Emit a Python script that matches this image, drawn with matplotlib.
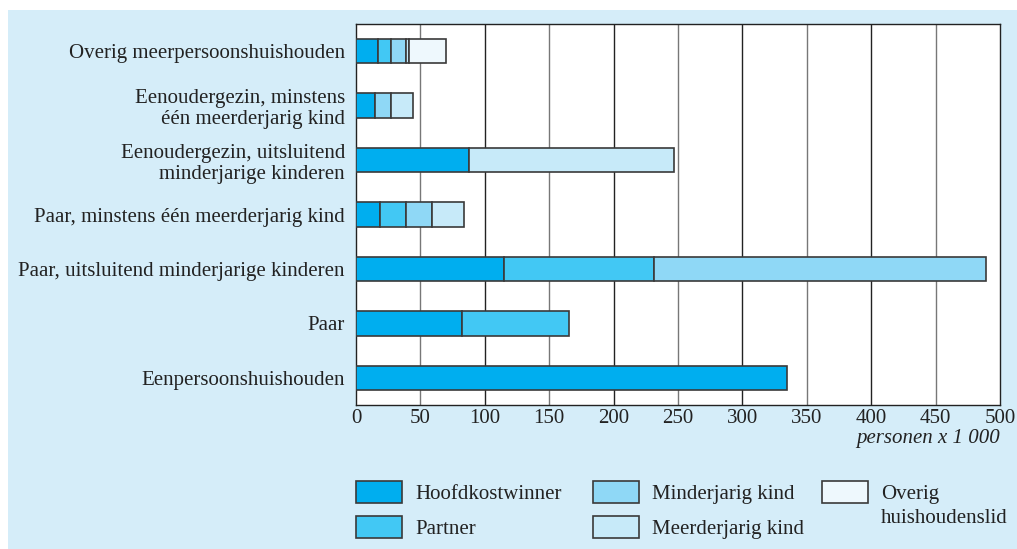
import matplotlib
matplotlib.use("Agg")
import matplotlib.pyplot as plt
from matplotlib.patches import Rectangle
import numpy as np

categories = [
    "Overig meerpersoonshuishouden",
    "Eenoudergezin, minstens\néén meerderjarig kind",
    "Eenoudergezin, uitsluitend\nminderjarige kinderen",
    "Paar, minstens één meerderjarig kind",
    "Paar, uitsluitend minderjarige kinderen",
    "Paar",
    "Eenpersoonshuishouden",
]

# personen x 1000
hoofdkostwinner = [17, 15, 88, 19, 115, 82, 335]
partner = [10, 0, 0, 20, 116, 83, 0]
minderjarig_kind = [12, 12, 0, 20, 258, 0, 0]
meerderjarig_kind = [2, 17, 159, 25, 0, 0, 0]
overig_lid = [29, 0, 0, 0, 0, 0, 0]

series_names = ["Hoofdkostwinner", "Partner", "Minderjarig kind",
                "Meerderjarig kind", "Overig\nhuishoudenslid"]
series_colors = ["#00aeef", "#42c8f4", "#8fd8f6", "#c7eaf9", "#eef8fd"]
x_ticks = [0, 50, 100, 150, 200, 250, 300, 350, 400, 450, 500]

bg = "#d5edf9"
edge = "#3a3a3a"
serif = ["Liberation Serif", "DejaVu Serif"]
fs = 15

fig = plt.figure(figsize=(10.17, 5.49), dpi=100, facecolor="white")
fig.add_artist(Rectangle((8 / 1017, 0), 1, 1 - 10 / 549, transform=fig.transFigure,
                         facecolor=bg, edgecolor="none", zorder=-10))

ax = fig.add_axes([356 / 1017, 1 - 405 / 549, 644 / 1017, 381 / 549])
ax.set_facecolor("white")

all_series = [hoofdkostwinner, partner, minderjarig_kind, meerderjarig_kind, overig_lid]
y = np.arange(len(categories))
left = np.zeros(len(categories))
for vals, col in zip(all_series, series_colors):
    vals = np.array(vals, dtype=float)
    mask = vals > 0
    ax.barh(y[mask], vals[mask], left=left[mask], height=0.45, color=col,
            edgecolor=edge, linewidth=1.2, zorder=3)
    left += vals

ax.set_xlim(0, 500)
ax.set_ylim(len(categories) - 0.5, -0.5)
ax.set_xticks(x_ticks)
ax.set_xticklabels([str(t) for t in x_ticks], family=serif, fontsize=fs, color="#222222")
ax.set_yticks(y)
ax.set_yticklabels(categories, family=serif, fontsize=fs, color="#222222",
                   linespacing=1.15)
ax.tick_params(axis="y", length=0, pad=8)
ax.tick_params(axis="x", length=0, pad=3)
for t in x_ticks[1:-1]:
    ax.axvline(t, color="#222222" if t % 100 == 0 else "#777777", linewidth=1.0, zorder=1)
for s in ax.spines.values():
    s.set_color("#222222")
    s.set_linewidth(1.0)

fig.text(1000 / 1017, 1 - 438 / 549, "personen x 1 000", ha="right", va="center",
         family=serif, style="italic", fontsize=fs, color="#222222")

# legend
leg_pos = [(356, 481), (356, 516), (593, 481), (593, 516), (822, 481)]
for (px, py), name, col in zip(leg_pos, series_names, series_colors):
    fig.add_artist(Rectangle((px / 1017, 1 - (py + 22) / 549), 46 / 1017, 22 / 549,
                             transform=fig.transFigure, facecolor=col,
                             edgecolor=edge, linewidth=1.2))
    fig.text((px + 59) / 1017, 1 - (py + 4) / 549, name, ha="left", va="top",
             family=serif, fontsize=fs, color="#222222", linespacing=1.35)

fig.savefig("out.png", dpi=100, facecolor=fig.get_facecolor())
